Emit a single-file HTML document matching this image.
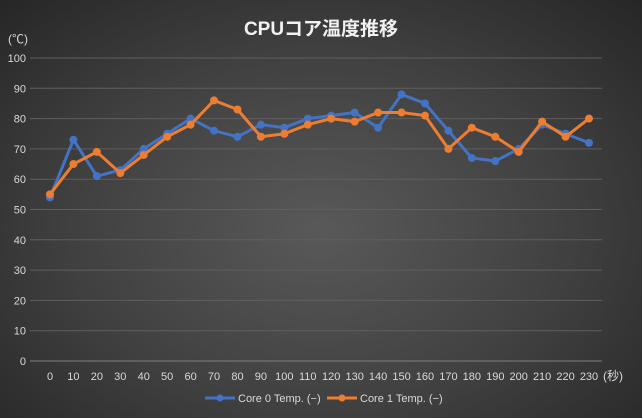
<!DOCTYPE html>
<html><head><meta charset="utf-8"><style>
html,body{margin:0;padding:0}
body{width:642px;height:418px;overflow:hidden;background:radial-gradient(ellipse at 50% 55%,#595959 0%,#404040 55%,#262626 100%);font-family:"Liberation Sans","Noto Sans CJK JP",sans-serif}
svg{display:block}
</style></head><body>
<svg id="chart" width="642" height="418" xmlns="http://www.w3.org/2000/svg">
<text x="321" y="35" text-anchor="middle" fill="#f2f2f2" font-size="19" font-weight="bold" font-family="Liberation Sans,Noto Sans CJK JP,sans-serif">CPUコア温度推移</text>
<text x="8" y="43" fill="#d9d9d9" font-size="12" font-family="Liberation Sans,Noto Sans CJK JP,sans-serif">(℃)</text>
<text x="603" y="380" fill="#d9d9d9" font-size="12" font-family="Liberation Sans,Noto Sans CJK JP,sans-serif">(秒)</text>
<g id="grid"></g><g id="series"></g>
<g>
<line x1="205" y1="398" x2="235" y2="398" stroke="#4472c4" stroke-width="3"/><circle cx="220" cy="398" r="3.5" fill="#4472c4"/>
<text x="238" y="402" fill="#d9d9d9" font-size="11">Core 0 Temp. (−)</text>
<line x1="327" y1="398" x2="357" y2="398" stroke="#ed7d31" stroke-width="3"/><circle cx="342" cy="398" r="3.5" fill="#ed7d31"/>
<text x="360" y="402" fill="#d9d9d9" font-size="11">Core 1 Temp. (−)</text>
</g>
</svg>
<script>
const categories=[0,10,20,30,40,50,60,70,80,90,100,110,120,130,140,150,160,170,180,190,200,210,220,230];
const core0=[54,73,61,63,70,75,80,76,74,78,77,80,81,82,77,88,85,76,67,66,70,78,75,72];
const core1=[55,65,69,62,68,74,78,86,83,74,75,78,80,79,82,82,81,70,77,74,69,79,74,80];
const yTicks=[0,10,20,30,40,50,60,70,80,90,100];
const NS='http://www.w3.org/2000/svg';
const x0=50,x1=589,yb=361,yt=58;
const xs=i=>x0+(x1-x0)*i/(categories.length-1);
const ys=v=>yb-(yb-yt)*v/100;
const grid=document.getElementById('grid');
function mk(t,a,p){const e=document.createElementNS(NS,t);for(const k in a)e.setAttribute(k,a[k]);p.appendChild(e);return e;}
yTicks.forEach(v=>{
 const l=mk('line',{x1:x0-20,x2:x1+13,y1:ys(v),y2:ys(v),stroke:v===0?'#7f7f7f':'#5e5e5e','stroke-width':1},grid);
 
 
 const t=mk('text',{x:26,y:ys(v)+4,'text-anchor':'end',fill:'#d9d9d9','font-size':11},grid);
 t.textContent=v;
 
 
});
categories.forEach((c,i)=>{
 const t=mk('text',{x:xs(i),y:380,'text-anchor':'middle',fill:'#d9d9d9','font-size':11},grid);
 t.textContent=c;
 
 
});
const sg=document.getElementById('series');
[[core0,'#4472c4','core0'],[core1,'#ed7d31','core1']].forEach(([d,col,n])=>{
 const p=mk('polyline',{points:d.map((v,i)=>xs(i)+','+ys(v)).join(' '),fill:'none',stroke:col,'stroke-width':3,'stroke-linejoin':'round'},sg);
 
 
 d.forEach((v,i)=>{
  const c=mk('circle',{cx:xs(i),cy:ys(v),r:4,fill:col},sg);
  
  
 });
});
</script>
</body></html>
